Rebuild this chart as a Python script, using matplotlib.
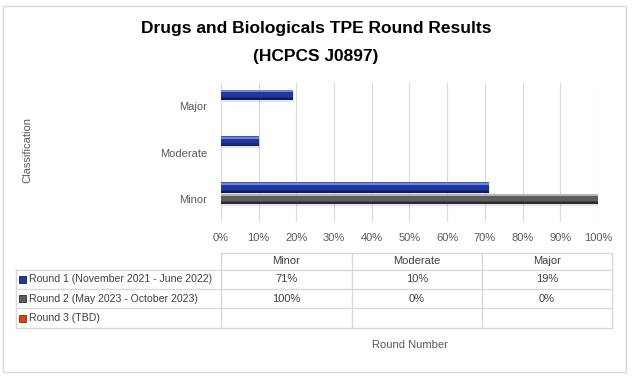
import numpy as np
import matplotlib
matplotlib.use('Agg')
import matplotlib.pyplot as plt
from matplotlib.patches import Rectangle
from matplotlib.colors import to_rgb

plt.rcParams['font.family'] = ['Liberation Sans', 'DejaVu Sans']

categories = ['Minor', 'Moderate', 'Major']
series = ['Round 1 (November 2021 - June 2022)',
          'Round 2 (May 2023 - October 2023)',
          'Round 3 (TBD)']
round1 = [71, 10, 19]
round2 = [100, 0, 0]
round3 = [None, None, None]
values = [round1, round2, round3]

# (dark edge, main, highlight)
shades = [('#101a5c', '#2038a0', '#6f86dd'),
          ('#2a2a2a', '#5e5e5e', '#b4b4b4'),
          ('#8a2a05', '#d9430d', '#f58a55')]


def blend(c1, c2, t):
    a, b = np.array(to_rgb(c1)), np.array(to_rgb(c2))
    return tuple(a + (b - a) * t)


W, H = 634, 376
fig = plt.figure(figsize=(W / 100, H / 100), dpi=100)

# pixel overlay for border, table, labels
ov = fig.add_axes([0, 0, 1, 1])
ov.set_xlim(0, W); ov.set_ylim(H, 0); ov.axis('off')
ov.add_patch(Rectangle((2.5, 5.5), 623, 366, fill=False, edgecolor='#d9d9d9', lw=1))

ax = fig.add_axes([221 / W, 1 - 222 / H, 377 / W, 139 / H])
ax.set_xlim(0, 100)
ax.set_ylim(-0.5, 2.5)
h = 0.245
bh = 0.225
offsets = [h, 0, -h]

ax.set_xticks(np.arange(0, 101, 10))
ax.set_xticklabels([f'{t}%' for t in range(0, 101, 10)], fontsize=8, color='#595959')
ax.set_yticks(range(len(categories)))
ax.set_yticklabels(categories, fontsize=8, color='#595959')
ax.tick_params(length=0, pad=8)
ax.tick_params(axis='y', pad=10)
ax.grid(axis='x', color='#d9d9d9', lw=0.8)
ax.set_axisbelow(True)
for s in ax.spines.values():
    s.set_visible(False)

# vertical profile of the bevel, top -> bottom
profile = [(0.00, 0.08, 'light', 0.6), (0.08, 0.25, 'light', 0.0),
           (0.25, 0.45, 'main', 0.3), (0.45, 0.70, 'main', 0.0),
           (0.70, 0.85, 'dark', 0.5), (0.85, 1.00, 'dark', 0.0)]

y = np.arange(len(categories))
for si, vals in enumerate(values):
    dark, main, light = shades[si]
    base = {'light': light, 'main': main, 'dark': dark}
    v = [0 if x is None else x for x in vals]
    yc = y + offsets[si]
    # soft shadow
    ax.barh(yc - bh * 0.18, v, height=bh, left=0.3, color='#000000', alpha=0.10, lw=0)
    top = yc + bh / 2
    for f0, f1, key, mix in profile:
        col = blend(base[key], main, mix)
        ax.barh(top - bh * (f0 + f1) / 2, v, height=bh * (f1 - f0), color=col, lw=0)

ov.text(27, 150, 'Classification', rotation=90, ha='center', va='center',
        fontsize=8, color='#595959')

# title
ov.text(316, 29, 'Drugs and Biologicals TPE Round Results', ha='center', va='center',
        fontsize=12.5, fontweight='bold', color='black')
ov.text(316, 56, '(HCPCS J0897)', ha='center', va='center',
        fontsize=12.5, fontweight='bold', color='black')

# data table
gc = '#d9d9d9'
col_x = [16, 221, 352, 482, 612]
row_y = [253, 270, 289, 308, 328]
ov.plot([col_x[1], col_x[-1]], [row_y[0], row_y[0]], color=gc, lw=1)
for yy in row_y[1:]:
    ov.plot([col_x[0], col_x[-1]], [yy, yy], color=gc, lw=1)
ov.plot([col_x[0], col_x[0]], [row_y[1], row_y[-1]], color=gc, lw=1)
for xx in col_x[1:]:
    ov.plot([xx, xx], [row_y[0], row_y[-1]], color=gc, lw=1)

for ci, cat in enumerate(categories):
    xm = (col_x[ci + 1] + col_x[ci + 2]) / 2
    ov.text(xm, (row_y[0] + row_y[1]) / 2, cat, ha='center', va='center',
            fontsize=8, color='#404040')
for si, name in enumerate(series):
    ym = (row_y[si + 1] + row_y[si + 2]) / 2
    dark, main, light = shades[si]
    ov.add_patch(Rectangle((19, ym - 3.5), 7, 7, facecolor=main, edgecolor=dark, lw=0.6))
    ov.text(29, ym, name, ha='left', va='center', fontsize=7.6, color='#404040')
    for ci, v in enumerate(values[si]):
        if v is None:
            continue
        xm = (col_x[ci + 1] + col_x[ci + 2]) / 2
        ov.text(xm, ym, f'{v}%', ha='center', va='center', fontsize=8, color='#404040')

ov.text(410, 345, 'Round Number', ha='center', va='center', fontsize=8, color='#595959')

fig.savefig('out.png', dpi=100)
